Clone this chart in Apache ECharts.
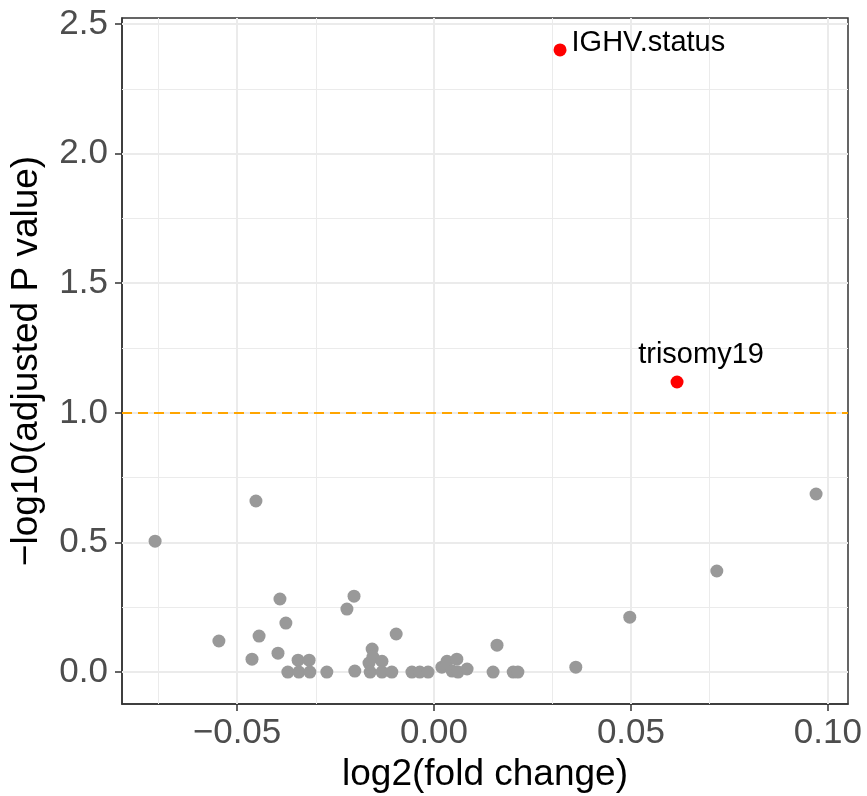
<!DOCTYPE html>
<html>
<head>
<meta charset="utf-8">
<script src="https://cdn.jsdelivr.net/npm/echarts@6/dist/echarts.min.js"></script>
<style>
html,body{margin:0;padding:0;background:#fff;}
#chart{width:867px;height:796px;}
</style>
</head>
<body>
<div id="chart"></div>
<script>
// ---- data ----
const grayX = [-0.0708,-0.0452,-0.0546,-0.0462,-0.0444,-0.0391,-0.0376,-0.0396,-0.0345,-0.0317,
  -0.0371,-0.0343,-0.0315,-0.0272,-0.0221,-0.0203,-0.0201,-0.0096,-0.0157,-0.0155,
  -0.0165,-0.0132,-0.0162,-0.0132,-0.0107,-0.0056,-0.0036,-0.0015,0.0020,0.0033,
  0.0058,0.0046,0.0061,0.0084,0.0160,0.0150,0.0201,0.0213,0.0360,0.0497,0.0718,0.0970];
const grayY = [0.505,0.660,0.120,0.050,0.139,0.282,0.189,0.073,0.046,0.046,
  0.000,0.000,0.000,0.000,0.243,0.293,0.004,0.147,0.089,0.058,
  0.035,0.042,0.000,0.000,0.000,0.000,0.000,0.000,0.019,0.042,
  0.050,0.004,0.000,0.012,0.104,0.000,0.000,0.000,0.019,0.212,0.390,0.687];
const sigNames = ["IGHV.status","trisomy19"];
const sigX = [0.0320,0.0617];
const sigY = [2.400,1.119];
const threshold = 1.0;
const xTicks = [-0.05,0,0.05,0.10];
const xMinor = [-0.075,-0.025,0.025,0.075];
const yTicks = [0,0.5,1.0,1.5,2.0,2.5];
const yMinor = [0.25,0.75,1.25,1.75,2.25];
const xRange = [-0.0792,0.1051];
const yRange = [-0.123,2.523];

// ---- chart ----
const FONT = '"Liberation Sans", Arial, Helvetica, sans-serif';
const chart = echarts.init(document.getElementById('chart'), null, {renderer:'canvas'});
const minus = s => s.replace('-', '\u2212');

const gridLines = [];
xMinor.forEach(v => gridLines.push({xAxis:v, lineStyle:{color:'#EBEBEB', width:1, type:'solid'}}));
yMinor.forEach(v => gridLines.push({yAxis:v, lineStyle:{color:'#EBEBEB', width:1, type:'solid'}}));
xTicks.forEach(v => gridLines.push({xAxis:v, lineStyle:{color:'#EBEBEB', width:2, type:'solid'}}));
yTicks.forEach(v => gridLines.push({yAxis:v, lineStyle:{color:'#EBEBEB', width:2, type:'solid'}}));

const labelCfg = [
  {position:'right', offset:[0,-7]},
  {position:'top', offset:[24,-1]}
];

chart.setOption({
  animation:false,
  backgroundColor:'#fff',
  grid:{left:122,right:19,top:18,bottom:92,show:true,borderColor:'#333333',borderWidth:1.5,
    backgroundColor:'#fff',containLabel:false,outerBoundsMode:'none'},
  xAxis:{
    type:'value', min:xRange[0], max:xRange[1],
    name:'log2(fold change)', nameLocation:'middle', nameGap:52,
    nameTextStyle:{color:'#000',fontSize:37,fontFamily:FONT},
    splitLine:{show:false},
    axisLine:{show:true,onZero:false,lineStyle:{color:'#333333',width:1.5}},
    axisTick:{show:true,customValues:xTicks,length:7,lineStyle:{color:'#333333',width:1.5}},
    axisLabel:{customValues:xTicks,color:'#4D4D4D',fontSize:35,fontFamily:FONT,margin:12,
      hideOverlap:false,formatter:v=>minus(v.toFixed(2))}
  },
  yAxis:{
    type:'value', min:yRange[0], max:yRange[1],
    name:'\u2212log10(adjusted P value)', nameLocation:'middle', nameGap:77,
    nameTextStyle:{color:'#000',fontSize:37,fontFamily:FONT},
    splitLine:{show:false},
    axisLine:{show:true,onZero:false,lineStyle:{color:'#333333',width:1.5}},
    axisTick:{show:true,customValues:yTicks,length:7,lineStyle:{color:'#333333',width:1.5}},
    axisLabel:{customValues:yTicks,color:'#4D4D4D',fontSize:35,fontFamily:FONT,margin:14,
      formatter:v=>v.toFixed(1)}
  },
  series:[
    {type:'scatter', data:[], z:1, silent:true,
      markLine:{z:1,silent:true,symbol:['none','none'],label:{show:false},animation:false,data:gridLines}},
    {type:'scatter', data:[], z:2, silent:true,
      markLine:{z:2,silent:true,symbol:['none','none'],label:{show:false},animation:false,
        data:[{yAxis:threshold,lineStyle:{color:'#FFA500',width:2.2,type:[10,6]}}]}},
    {type:'scatter', z:3, symbolSize:13, itemStyle:{color:'#999999',opacity:1},
      data: grayX.map((x,i)=>[x,grayY[i]])},
    {type:'scatter', z:4, symbolSize:13, itemStyle:{color:'#FF0000',opacity:1},
      data: sigX.map((x,i)=>({value:[x,sigY[i]], name:sigNames[i],
        label:Object.assign({show:true,formatter:'{b}',color:'#000',fontSize:29,fontFamily:FONT,
          textBorderWidth:0,opacity:1}, labelCfg[i])}))}
  ]
});
</script>
</body>
</html>
